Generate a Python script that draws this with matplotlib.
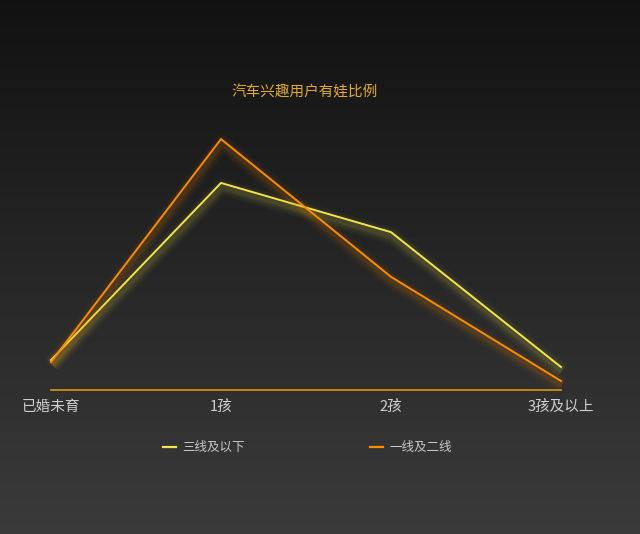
import numpy as np
import matplotlib
matplotlib.use("Agg")
import matplotlib.pyplot as plt
import matplotlib.transforms as mtransforms

plt.rcParams['font.family'] = ['Noto Sans CJK SC', 'DejaVu Sans']

# data (share of users, %)
categories = ["已婚未育", "1孩", "2孩", "3孩及以上"]
tier3_below = [7.3, 50.5, 38.5, 5.6]    # 三线及以下
tier12 = [6.8, 61.2, 27.6, 2.2]         # 一线及二线
series_names = ["三线及以下", "一线及二线"]

yellow = "#f2e44a"
orange = "#ff8c00"

fig = plt.figure(figsize=(6.4, 5.34), dpi=100)

# dark vertical gradient background
bg = fig.add_axes([0, 0, 1, 1])
grad = np.linspace(0, 1, 256).reshape(-1, 1)
top = np.array([0.07, 0.07, 0.07])
bot = np.array([0.23, 0.23, 0.23])
img = top + (bot - top) * grad[..., None]
bg.imshow(img, aspect="auto", extent=[0, 1, 0, 1])
bg.axis("off")

ax = fig.add_axes([51 / 640, 144 / 534, 510 / 640, 287 / 534])
ax.set_facecolor("none")
x = np.arange(len(categories))


def glow_line(vals, color):
    # soft shadow a few pixels below the line
    for lw, a in [(12, 0.03), (9, 0.045), (6, 0.06), (3.5, 0.07)]:
        tr = mtransforms.offset_copy(ax.transData, fig=fig, x=1, y=-4, units="dots")
        ax.plot(x, vals, color=color, lw=lw, alpha=a, transform=tr,
                solid_capstyle="butt", solid_joinstyle="round", clip_on=False)
    ax.plot(x, vals, color=color, lw=1.4, solid_joinstyle="miter", clip_on=False)


glow_line(tier3_below, yellow)
glow_line(tier12, orange)

ax.set_xlim(0, 3)
ax.set_ylim(0, 70)
ax.axhline(0, color="#c8900e", lw=1.3, clip_on=False)
for s in ax.spines.values():
    s.set_visible(False)
ax.set_yticks([])
ax.set_xticks(x)
ax.set_xticklabels(categories, color="#cfcfcf", fontsize=10.5)
ax.tick_params(axis="x", length=0, pad=7)

fig.text(305 / 640, 1 - 92 / 534, "汽车兴趣用户有娃比例", color="#e3aa2c",
         fontsize=10.5, ha="center", va="center")

# legend
ly = 1 - 447 / 534
for lx, c, name in [(163, yellow, series_names[0]), (370, orange, series_names[1])]:
    fig.add_artist(plt.Line2D([lx / 640, (lx + 13) / 640], [ly, ly], color=c, lw=1.6))
    fig.text((lx + 19) / 640, ly, name, color="#c8c8c8", fontsize=9, va="center")

fig.savefig("out.png", dpi=100)
